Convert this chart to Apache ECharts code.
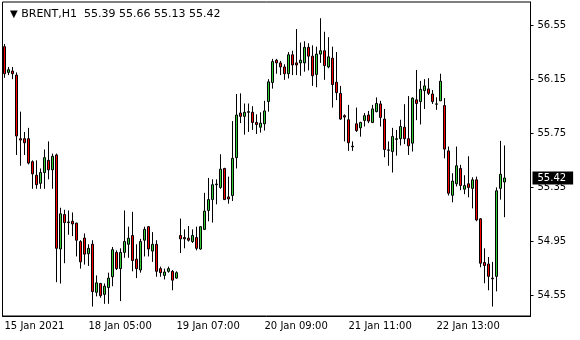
<!DOCTYPE html>
<html><head><meta charset="utf-8">
<script src="https://cdn.jsdelivr.net/npm/echarts@6/dist/echarts.min.js"></script>
<style>html,body{margin:0;padding:0;background:#fff}#c{width:580px;height:340px}</style>
</head><body><div id="c"></div>
<script>
const symbolName = 'BRENT,H1';
const opens = [56.39,56.20,56.21,56.18,55.71,55.71,55.71,55.54,55.44,55.38,55.46,55.55,55.48,55.59,54.895,55.15,55.09,55.10,55.086,54.95,54.976,54.86,54.93,54.575,54.64,54.56,54.61,54.69,54.87,54.75,54.87,54.93,54.995,54.82,54.74,54.96,55.06,54.88,54.93,54.75,54.70,54.73,54.73,54.68,54.995,54.98,54.975,54.95,54.98,54.895,55.04,55.18,55.26,55.37,55.35,55.49,55.28,55.29,55.57,55.90,55.875,55.905,55.905,55.83,55.795,55.82,55.985,56.125,56.29,56.27,56.24,56.19,56.33,56.27,56.27,56.27,56.385,56.32,56.185,56.335,56.36,56.24,56.305,56.127,56.045,55.88,55.85,55.655,55.82,55.79,55.845,55.885,55.83,55.91,55.967,55.855,55.627,55.615,55.705,55.71,55.795,55.71,55.677,55.997,55.984,56.065,56.078,56.04,55.967,55.99,55.955,55.62,55.292,55.377,55.49,55.337,55.377,55.343,55.406,55.118,54.795,54.784,54.68,54.693,55.343,55.39];
const highs = [56.41,56.24,56.24,56.20,55.91,55.76,55.79,55.55,55.55,55.49,55.63,55.69,55.60,55.60,55.20,55.185,55.18,55.165,55.09,54.96,55.01,54.93,54.96,54.70,54.645,54.64,54.72,54.91,54.885,54.90,55.18,55.06,55.17,54.93,54.97,55.06,55.065,55.02,54.96,54.765,54.75,54.765,54.74,54.73,55.12,55.04,55.065,55.04,55.06,55.065,55.31,55.42,55.41,55.41,55.595,55.495,55.43,55.84,56.04,56.045,55.97,55.97,55.95,55.89,55.905,55.99,56.15,56.30,56.30,56.285,56.26,56.35,56.36,56.52,56.42,56.43,56.415,56.40,56.39,56.60,56.50,56.46,56.39,56.35,56.10,55.89,55.96,55.69,55.94,55.835,55.90,55.915,55.96,56.015,55.99,55.93,55.69,55.79,55.775,55.85,55.965,56.025,56.015,56.218,56.137,56.15,56.157,56.07,56.016,56.19,56.01,55.652,55.455,55.652,55.517,55.44,55.58,55.425,55.43,55.123,54.90,54.836,54.80,55.35,55.694,55.66];
const lows = [56.16,56.18,56.15,55.59,55.51,55.59,55.52,55.34,55.34,55.34,55.34,55.41,55.34,54.65,54.64,54.79,55.00,54.99,54.84,54.75,54.78,54.77,54.47,54.545,54.535,54.49,54.49,54.62,54.74,54.51,54.83,54.83,54.73,54.68,54.72,54.84,54.84,54.80,54.69,54.69,54.67,54.72,54.59,54.675,54.865,54.90,54.95,54.94,54.885,54.89,55.035,55.10,55.09,55.225,55.34,55.26,55.23,55.25,55.49,55.825,55.74,55.76,55.775,55.745,55.755,55.77,55.91,56.08,56.19,56.18,56.145,56.155,56.18,56.18,56.175,56.205,56.215,56.10,56.09,56.27,56.145,56.23,55.94,55.995,55.85,55.69,55.62,55.62,55.76,55.725,55.80,55.825,55.825,55.905,55.80,55.573,55.51,55.46,55.585,55.66,55.67,55.59,55.615,55.847,55.815,55.93,56.033,55.967,55.923,55.99,55.565,55.29,55.24,55.357,55.33,55.30,55.277,55.195,55.10,54.76,54.642,54.59,54.47,54.582,55.26,55.13];
const closes = [56.19,56.22,56.19,55.73,55.70,55.68,55.53,55.45,55.37,55.46,55.57,55.48,55.58,54.90,55.155,55.09,55.095,55.08,54.96,54.80,54.857,54.90,54.58,54.645,54.55,54.62,54.68,54.89,54.75,54.87,54.95,54.975,54.81,54.75,54.95,55.04,54.895,54.93,54.73,54.72,54.725,54.75,54.665,54.72,54.97,54.97,54.96,54.995,54.90,55.06,55.175,55.26,55.37,55.375,55.485,55.26,55.265,55.565,55.885,55.875,55.905,55.91,55.83,55.815,55.825,55.915,56.13,56.28,56.27,56.24,56.19,56.33,56.255,56.255,56.29,56.385,56.32,56.175,56.335,56.36,56.25,56.315,56.11,56.05,55.855,55.87,55.68,55.65,55.77,55.83,55.88,55.84,55.93,55.97,55.867,55.63,55.625,55.727,55.71,55.80,55.71,55.657,56.01,55.97,56.075,56.10,56.045,55.984,55.965,56.135,55.633,55.307,55.397,55.51,55.364,55.364,55.35,55.406,55.11,54.79,54.773,54.693,54.675,55.325,55.447,55.42];
const timeLabels = ['15 Jan 2021','18 Jan 05:00','19 Jan 07:00','20 Jan 09:00','21 Jan 11:00','22 Jan 13:00'];
const timeLabelBars = [0,21,43,65,86,108];
const priceTicks = [54.55,54.95,55.35,55.75,56.15,56.55];

const emptySlots = 6;
const cats = [];
for (let i = 0; i < opens.length + emptySlots; i++) cats.push(String(i));
const candles = opens.map((o, i) => [o, closes[i], lows[i], highs[i]]);
const last = opens.length - 1;
const fmt = v => v.toFixed(2);
const isTick = i => timeLabelBars.indexOf(i) >= 0;
const FONT = 'DejaVu Sans';
const Y_MIN = 54.40, Y_MAX = 56.72;

const chart = echarts.init(document.getElementById('c'));
chart.setOption({
  animation: false,
  backgroundColor: '#fff',
  title: {
    text: '{tri|▼} ' + symbolName + '  ' + [opens[last], highs[last], lows[last], closes[last]].map(fmt).join(' '),
    left: 5, top: 4,
    textStyle: {
      fontFamily: FONT, fontSize: 11, fontWeight: 'normal', color: '#000',
      rich: { tri: { fontFamily: FONT, fontSize: 10, color: '#000' } }
    }
  },
  grid: { left: 2.5, right: 49.5, top: 2, bottom: 24, show: true, borderColor: '#000', borderWidth: 1, backgroundColor: '#fff' },
  xAxis: {
    type: 'category', data: cats, boundaryGap: true,
    axisLine: { lineStyle: { color: '#000', width: 1 } },
    axisTick: { interval: (i) => isTick(i), alignWithLabel: true, length: 4, lineStyle: { color: '#000' } },
    axisLabel: {
      interval: (i) => isTick(i), align: 'left', margin: 5,
      fontFamily: FONT, fontSize: 10, color: '#000',
      formatter: (v) => { const k = timeLabelBars.indexOf(Number(v)); return k >= 0 ? timeLabels[k] : ''; }
    },
    splitLine: { show: false }
  },
  yAxis: [{
    type: 'value', position: 'right', min: Y_MIN, max: Y_MAX, scale: true,
    axisLine: { show: true, lineStyle: { color: '#000' } },
    axisTick: { show: true, customValues: priceTicks, length: 3, lineStyle: { color: '#000' } },
    axisLabel: { customValues: priceTicks, formatter: fmt, margin: 7, fontFamily: FONT, fontSize: 10, color: '#000' },
    splitLine: { show: false }
  }, {
    type: 'value', position: 'right', min: Y_MIN, max: Y_MAX, scale: true, z: 10,
    axisLine: { show: false }, axisTick: { show: false }, splitLine: { show: false },
    axisLabel: {
      customValues: [closes[last]], formatter: fmt, margin: 2,
      fontFamily: FONT, fontSize: 10, color: '#fff', backgroundColor: '#000',
      padding: [1, 7, 1, 5], lineHeight: 11
    }
  }],
  series: [{
    type: 'candlestick',
    data: candles,
    barWidth: 2,
    itemStyle: {
      color: '#32cd32', color0: '#ff0000',
      borderColor: '#000', borderColor0: '#000', borderColorDoji: '#000', borderWidth: 1
    }
  }]
});
</script>
</body></html>
